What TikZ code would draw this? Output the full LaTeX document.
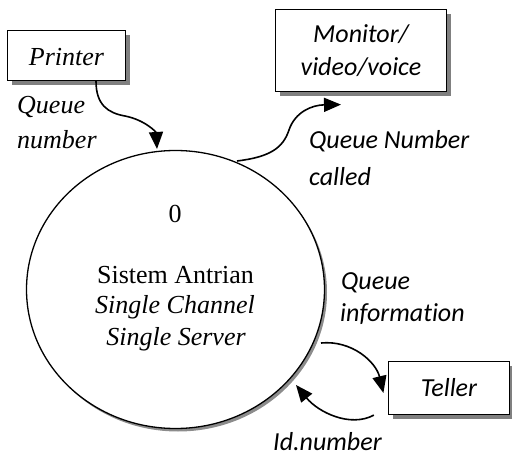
\documentclass[tikz,border=0pt]{standalone}
\usepackage{fontspec}
\setmainfont{Liberation Serif}
\newfontfamily\calib[Ligatures=NoCommon]{Carlito}
\usetikzlibrary{arrows.meta,shapes.geometric,shadows,calc}
\begin{document}
\begin{tikzpicture}[x=1pt,y=-1pt,
  box/.style={draw, line width=1.2pt, fill=white, inner sep=0pt,
    drop shadow={shadow xshift=4.5pt, shadow yshift=-4.5pt, fill=black!50, opacity=1}},
  flow/.style={line width=1.6pt, -{Triangle[length=17pt,width=14pt]}},
  serif/.style={font=\fontsize{26}{33}\selectfont\itshape},
  sans/.style={font=\fontsize{26}{33}\selectfont\calib\itshape},
  lbl/.style={inner sep=0pt, anchor=base west},
  ctext/.style={inner sep=0pt, anchor=base, font=\fontsize{26}{31}\selectfont}]
\useasboundingbox (0,0) rectangle (512,457);

% process
\node[ellipse, draw, line width=1.3pt, fill=white, inner sep=0pt,
  minimum width=298pt, minimum height=278pt,
  drop shadow={shadow xshift=2.5pt, shadow yshift=-3pt, fill=black!45, opacity=1}]
  (sys) at (175.5,289.5) {};
\node[ctext] (num) at (175,223) {0};
\node[ctext] (t1) at (175.5,284) {Sistem Antrian};
\node[ctext] (t2) at (175,314) {\itshape Single Channel};
\node[ctext] (t3) at (176,346) {\itshape Single Server};

% entities
\node[box, serif, minimum width=118pt, minimum height=50pt, text height=24pt, text depth=3pt]
  (printer) at (66.5,55.5) {Printer};
\node[box, sans, align=center, minimum width=171pt, minimum height=82pt]
  (monitor) at (361,50.5) {Monitor/\\video/voice};
\node[box, sans, minimum width=121pt, minimum height=53pt, text height=21pt, text depth=3pt]
  (teller) at (449,388) {Teller};

% labels
\node[lbl, serif] (l1a) at (17,114) {Queue};
\node[lbl, serif] (l1b) at (17,149) {number};
\node[lbl, sans] (l2a) at (309,149) {Queue Number};
\node[lbl, sans] (l2b) at (309,186) {called};
\node[lbl, sans] (l3a) at (341,290) {Queue};
\node[lbl, sans] (l3b) at (340,322) {information};
\node[lbl, sans] (l4) at (273,450) {Id.number};

% connector end points
\coordinate (pS) at ($(printer.south)+(29.5,0)$);
\coordinate (sT) at ($(sys.center)+(-18.5,-140.5)$);
\coordinate (sM) at ($(sys.center)+(61.5,-128.5)$);
\coordinate (mT) at ($(monitor.south)+(-20,12.5)$);
\coordinate (sQ) at ($(sys.center)+(145.5,53.5)$);
\coordinate (tT) at ($(teller.west)+(-4.5,5)$);
\coordinate (tS) at ($(teller.south west)+(-14,0)$);
\coordinate (sI) at ($(sys.center)+(120.5,95.5)$);

% flows
\draw[flow] (pS) .. controls (96,105) and (108,113) .. (125,116)
  .. controls (145,120) and (156,132) .. (sT);
\draw[flow] (sM) .. controls (270,157) and (283,148) .. (289,130)
  .. controls (295,112) and (312,105) .. (mT);
\draw[flow] (sQ) .. controls (352,340) and (376,362) .. (tT);
\draw[flow] (tS) .. controls (350,428) and (318,412) .. (sI);
\end{tikzpicture}
\end{document}
